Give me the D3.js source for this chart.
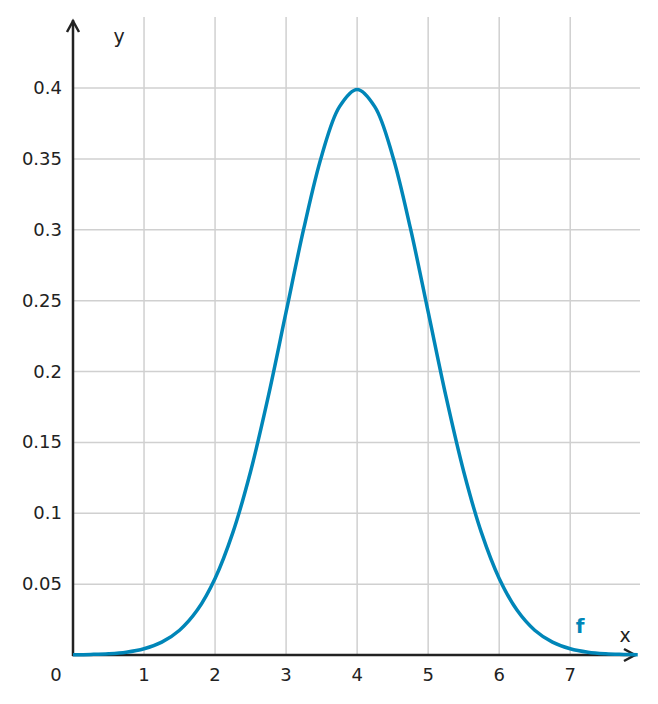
<!DOCTYPE html>
<html lang="en">
<head>
<meta charset="UTF-8">
<script src="https://d3js.org/d3.v7.min.js"></script>
<style>
  body { margin: 0; background: #fff; }
  text { font-family: "DejaVu Sans", sans-serif; fill: #222; }
</style>
</head>
<body>
<div id="chart"></div>
<script>
const xVals = [0, 0.25, 0.5, 0.75, 1, 1.25, 1.5, 1.75, 2, 2.25, 2.5, 2.75, 3, 3.25, 3.5, 3.75, 4,
               4.25, 4.5, 4.75, 5, 5.25, 5.5, 5.75, 6, 6.25, 6.5, 6.75, 7, 7.25, 7.5, 7.75, 7.95];
const yVals = [0.0001, 0.0004, 0.0009, 0.002, 0.0044, 0.0091, 0.0175, 0.0317, 0.054, 0.0863, 0.1295, 0.1826, 0.242, 0.3011, 0.3521, 0.3867, 0.399,
               0.3867, 0.3521, 0.3011, 0.242, 0.1826, 0.1295, 0.0863, 0.054, 0.0317, 0.0175, 0.0091, 0.0044, 0.002, 0.0009, 0.0004, 0.0001];
const xTicks = [1, 2, 3, 4, 5, 6, 7];
const yTicks = [0.05, 0.1, 0.15, 0.2, 0.25, 0.3, 0.35, 0.4];

const W = 658, H = 704;
const x = d3.scaleLinear().domain([0, 7.94]).range([73, 637]);
const y = d3.scaleLinear().domain([0, 0.4]).range([655, 88]);

const svg = d3.select("#chart").append("svg").attr("width", W).attr("height", H);

// grid
svg.append("g").selectAll("line").data(xTicks).join("line")
  .attr("x1", d => x(d)).attr("x2", d => x(d)).attr("y1", 17).attr("y2", 655)
  .attr("stroke", "#d0d0d0").attr("stroke-width", 1.5);
svg.append("g").selectAll("line").data(yTicks).join("line")
  .attr("x1", 73).attr("x2", 640).attr("y1", d => y(d)).attr("y2", d => y(d))
  .attr("stroke", "#d0d0d0").attr("stroke-width", 1.5);

// tick labels
svg.append("g").selectAll("text").data(xTicks).join("text")
  .attr("x", d => x(d)).attr("y", 681).attr("text-anchor", "middle")
  .attr("font-size", 18).text(d => d);
svg.append("g").selectAll("text").data(yTicks).join("text")
  .attr("x", 62).attr("y", d => y(d) + 6).attr("text-anchor", "end")
  .attr("font-size", 18).text(d => d);
svg.append("text").attr("x", 56).attr("y", 681).attr("text-anchor", "middle").attr("font-size", 18).text("0");

// axes with arrows
svg.append("line").attr("x1", 73).attr("x2", 73).attr("y1", 656).attr("y2", 20)
  .attr("stroke", "#222").attr("stroke-width", 2.5);
svg.append("path").attr("d", "M67,32 L73,21 L79,32").attr("fill", "none")
  .attr("stroke", "#222").attr("stroke-width", 2.5);
svg.append("line").attr("x1", 72).attr("x2", 636).attr("y1", 655).attr("y2", 655)
  .attr("stroke", "#222").attr("stroke-width", 2.5);
svg.append("path").attr("d", "M624,649 L635,655 L624,661").attr("fill", "none")
  .attr("stroke", "#222").attr("stroke-width", 2.5);

svg.append("text").attr("x", 119).attr("y", 43).attr("text-anchor", "middle").attr("font-size", 19).text("y");
svg.append("text").attr("x", 625).attr("y", 642).attr("text-anchor", "middle").attr("font-size", 19).text("x");

// curve
const line = d3.line().x((d, i) => x(xVals[i])).y(d => y(d)).curve(d3.curveCatmullRom);
svg.append("path").datum(yVals).attr("d", line).attr("fill", "none")
  .attr("stroke", "#0086b8").attr("stroke-width", 3.5);

svg.append("text").attr("x", 580).attr("y", 633).attr("text-anchor", "middle")
  .attr("font-size", 20).attr("font-weight", "bold").style("fill", "#0086b8").text("f");
</script>
</body>
</html>
